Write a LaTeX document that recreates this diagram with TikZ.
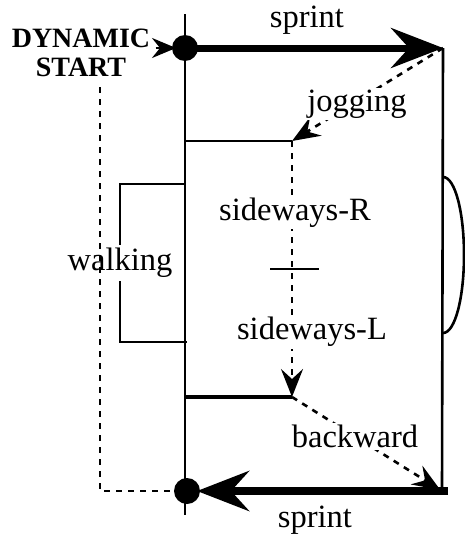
\documentclass[tikz,border=0pt]{standalone}
\usepackage{fontspec}
\setmainfont{Liberation Serif}
\usetikzlibrary{arrows.meta}
\tikzset{
  lbl/.style={font=\fontsize{32.5}{36}\selectfont, inner sep=2pt},
  trail/.style={line width=2.6pt, dash pattern=on 6pt off 6pt},
  bigtip/.style={-{Stealth[length=52pt,width=40pt,inset=18pt]}},
  smalltip/.style={-{Stealth[length=28pt,width=22pt,inset=10pt]}},
}
\begin{document}
\begin{tikzpicture}[x=1pt,y=-1pt,line width=2.6pt]
\useasboundingbox (0,0) rectangle (465,538);

%POINTS
\coordinate (ttop) at (185,14);
\coordinate (tbot) at (185,515);
\coordinate (start) at (185,48);
\coordinate (turn) at (443,48);
\coordinate (jog) at (292,141);
\coordinate (back) at (292,397);
\coordinate (turnb) at (442,491);
\coordinate (finish) at (187,491);
\coordinate (lap) at (100,87);

%TRACK
% time line
\draw (ttop) -- (tbot);
% right side
\draw (turn) -- (turnb);
\draw (443,177) .. controls (455,177) and (464,212) .. (464,255)
                .. controls (464,298) and (455,333) .. (443,333);

%LABELS
\node[lbl] (sprinttop) at (307,20) {sprint};
\node[lbl] (sprintbot) at (315,520) {sprint};
\node[font=\bfseries\fontsize{28}{29}\selectfont, align=center, inner sep=0pt] (dyn) at (81,53) {DYNAMIC\\START};
\node[lbl] (walking) at (120,263) {walking};

%WALKING
\draw (185,184) -| (walking.north);
\draw (walking.south) |- (187,342);

%RUNS
% jogging
\draw[trail, smalltip] (turn) -- node[lbl, fill=white, pos=0.57, yshift=-3pt] (jogging) {jogging} (jog);
\draw (jog) -- (jog -| ttop);
% sideways
\draw[trail, smalltip] (jog) -- node[lbl, fill=white, pos=0.28, xshift=3pt] (sider) {sideways-R}
  node[lbl, fill=white, pos=0.746, xshift=20pt] (sidel) {sideways-L} (back);
\draw (270,269) -- (319,269);
\draw[line width=4pt] (back) -- (back -| ttop);
% backward
\draw[trail, smalltip, shorten >=2pt] (back) -- node[lbl, fill=white, pos=0.42] (backward) {backward} (turnb);
% way back to the start
\draw[trail] (lap) |- (finish);

%SPRINTS
\draw[line width=7pt, bigtip] (start) -- (turn);
\draw[line width=8pt, bigtip, shorten <=-6pt, shorten >=10pt] (turnb) -- (finish);
\draw[-{Stealth[length=24pt,width=20pt,inset=8pt]}, shorten <=4pt, shorten >=9pt] (dyn.east |- start) -- (start);
\fill (start) circle[radius=13];
\fill (finish) circle[radius=13];

\end{tikzpicture}
\end{document}
